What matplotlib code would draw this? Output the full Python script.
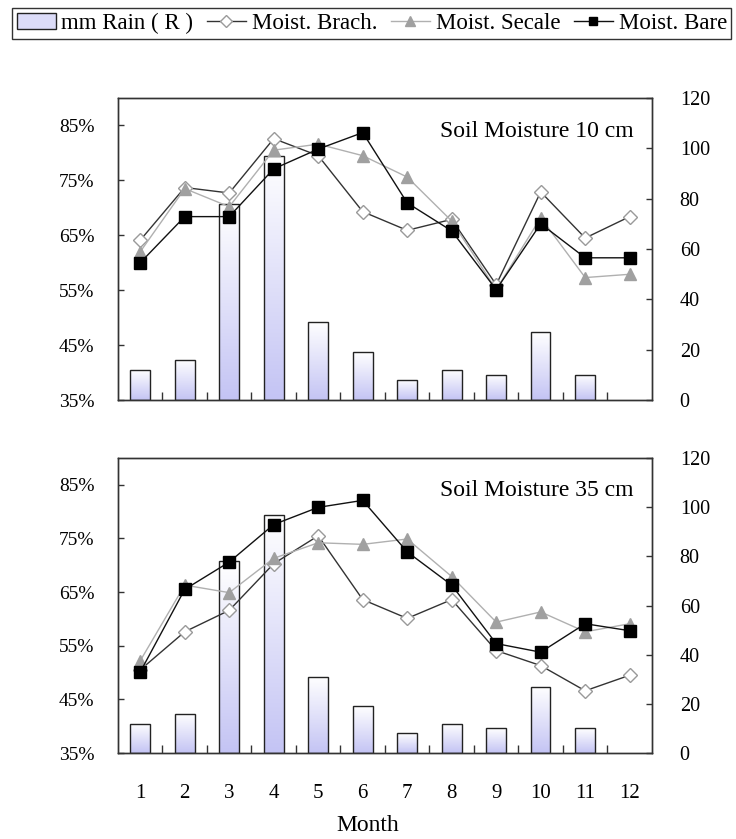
import matplotlib
matplotlib.use("Agg")
import matplotlib.pyplot as plt
import numpy as np
from matplotlib.lines import Line2D
from matplotlib.patches import Patch

plt.rcParams["font.family"] = ["Liberation Serif", "DejaVu Serif"]

months = [1, 2, 3, 4, 5, 6, 7, 8, 9, 10, 11, 12]
rain_mm = [12, 16, 78, 97, 31, 19, 8, 12, 10, 27, 10, 0]

brach_10 = [64.1, 73.7, 72.7, 82.6, 79.5, 69.3, 65.9, 67.9, 56.0, 72.9, 64.5, 68.4]
secale_10 = [62.0, 73.5, 70.2, 80.5, 81.6, 79.5, 75.6, 67.6, 55.1, 68.2, 57.3, 57.9]
bare_10 = [60.0, 68.4, 68.4, 77.1, 80.7, 83.7, 70.9, 65.8, 55.1, 67.1, 60.9, 60.9]

brach_35 = [50.5, 57.6, 61.6, 70.3, 75.5, 63.6, 60.1, 63.6, 54.1, 51.3, 46.6, 49.5]
secale_35 = [52.2, 66.3, 64.9, 71.3, 74.2, 73.9, 74.9, 67.9, 59.4, 61.3, 57.6, 59.1]
bare_35 = [50.1, 65.5, 70.6, 77.6, 80.8, 82.1, 72.5, 66.3, 55.4, 53.8, 59.1, 57.8]

left_ticks = [35, 45, 55, 65, 75, 85]
right_ticks = [0, 20, 40, 60, 80, 100, 120]

BAR_WIDTH = 0.44
LAVENDER = np.array([196, 196, 244]) / 255.0


def draw_panel(ax, brach, secale, bare, label, show_months):
    ax2 = ax.twinx()

    # rain bars with a vertical white -> lavender gradient
    grad = np.linspace(0, 1, 64)[:, None, None]
    img = (1 - grad) * np.ones(3) + grad * LAVENDER
    for m, r in zip(months, rain_mm):
        if r <= 0:
            continue
        x0, x1 = m - BAR_WIDTH / 2, m + BAR_WIDTH / 2
        ax2.imshow(img, extent=[x0, x1, 0, r], aspect="auto", origin="upper",
                   interpolation="bilinear", zorder=1)
        ax2.bar(m, r, width=BAR_WIDTH, facecolor="none", edgecolor="#222222",
                linewidth=1.0, zorder=2)

    ax.plot(months, brach, color="#333333", lw=1.0, marker="D", ms=7,
            mfc="white", mec="#9a9a9a", mew=1.0, zorder=3)
    ax.plot(months, secale, color="#b0b0b0", lw=1.0, marker="^", ms=9,
            mfc="#a0a0a0", mec="#a0a0a0", zorder=4)
    ax.plot(months, bare, color="#111111", lw=1.0, marker="s", ms=9,
            mfc="black", mec="black", zorder=5)

    ax.set_zorder(ax2.get_zorder() + 1)
    ax.patch.set_visible(False)

    ax.set_xlim(0.5, 12.5)
    ax.set_ylim(35, 90)
    ax2.set_ylim(0, 120)

    ax.set_yticks(left_ticks)
    ax.set_yticklabels([f"{t}%" for t in left_ticks], fontsize=14)
    ax2.set_yticks(right_ticks)
    ax2.set_yticklabels([str(t) for t in right_ticks], fontsize=14.5)
    ax.tick_params(axis="y", direction="in", length=4, width=1.0, color="#333333", pad=17)
    ax2.tick_params(axis="y", direction="in", length=4, width=1.0, color="#333333", pad=20)

    ax.set_xticks(months)
    ax.set_xticks(np.arange(1.5, 12.5, 1.0), minor=True)
    ax.tick_params(axis="x", which="major", length=0, labelsize=15, pad=22)
    ax.tick_params(axis="x", which="minor", direction="in", length=6, width=1.0, color="#333333")
    if not show_months:
        ax.set_xticklabels([])

    for a in (ax, ax2):
        for sp in a.spines.values():
            sp.set_color("#333333")
            sp.set_linewidth(1.0)

    ax.text(0.965, 0.89, label, transform=ax.transAxes, ha="right", va="center", fontsize=17)


fig = plt.figure(figsize=(7.36, 8.39), dpi=100)
ax_top = fig.add_axes([0.1603, 0.5232, 0.7255, 0.36])
ax_bot = fig.add_axes([0.1603, 0.1025, 0.7255, 0.3516])

draw_panel(ax_top, brach_10, secale_10, bare_10, "Soil Moisture 10 cm", False)
draw_panel(ax_bot, brach_35, secale_35, bare_35, "Soil Moisture 35 cm", True)

fig.text(0.5, 0.004, "Month", ha="center", va="bottom", fontsize=17)

handles = [
    Patch(facecolor="#dcdcf8", edgecolor="#222222", linewidth=1.0),
    Line2D([], [], color="#333333", lw=1.0, marker="D", ms=6, mfc="white", mec="#9a9a9a"),
    Line2D([], [], color="#b0b0b0", lw=1.0, marker="^", ms=7, mfc="#a0a0a0", mec="#a0a0a0"),
    Line2D([], [], color="#111111", lw=1.0, marker="s", ms=6, mfc="black", mec="black"),
]
labels = ["mm Rain ( R )", "Moist. Brach.", "Moist. Secale", "Moist. Bare"]
leg = fig.legend(handles, labels, loc="upper center", bbox_to_anchor=(0.505, 0.99), ncol=4,
                 frameon=True, fancybox=False, fontsize=16.5, handlelength=1.7,
                 handletextpad=0.25, columnspacing=0.6, borderpad=0.2, borderaxespad=0)
leg.get_frame().set_edgecolor("black")
leg.get_frame().set_linewidth(1.0)

fig.savefig("out.png", dpi=100)
